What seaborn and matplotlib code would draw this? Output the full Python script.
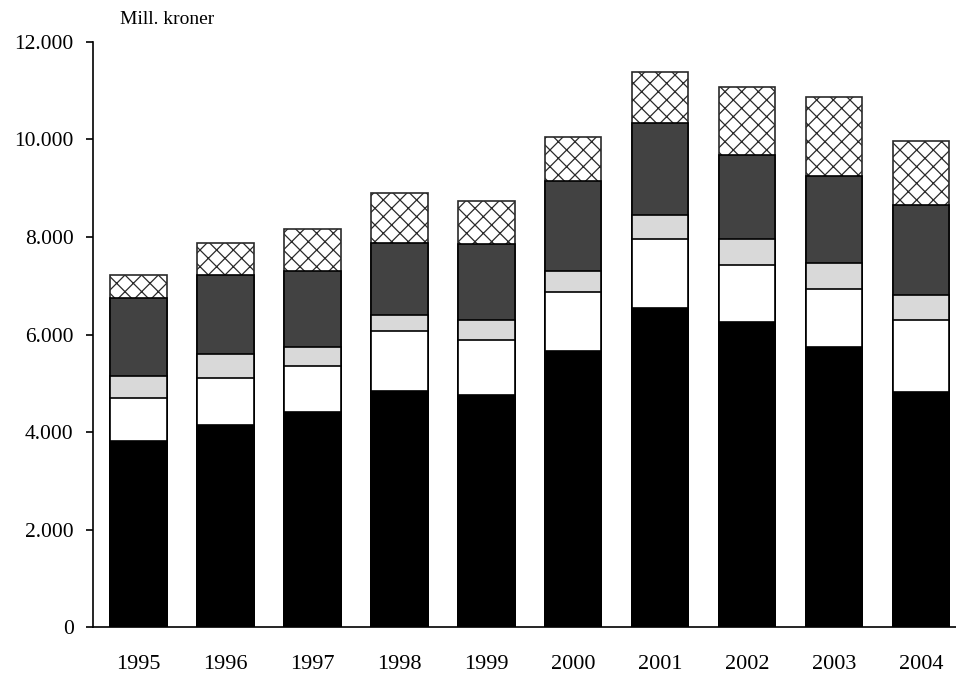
import numpy as np
import pandas as pd
import matplotlib
matplotlib.use("Agg")
import matplotlib.pyplot as plt
import seaborn as sns

# Mill. kroner per year, split into five components (bottom to top)
years = ["1995", "1996", "1997", "1998", "1999", "2000", "2001", "2002", "2003", "2004"]
black_part = [3810, 4150, 4420, 4840, 4765, 5665, 6550, 6265, 5740, 4830]
white_part = [895, 960, 930, 1240, 1115, 1205, 1415, 1170, 1200, 1460]
lightgrey_part = [435, 490, 400, 330, 410, 440, 480, 520, 525, 525]
darkgrey_part = [1600, 1625, 1560, 1475, 1565, 1840, 1885, 1720, 1795, 1845]
hatched_part = [485, 660, 860, 1025, 885, 900, 1060, 1405, 1610, 1310]

y_ticks = [0, 2000, 4000, 6000, 8000, 10000, 12000]
y_tick_labels = ["0", "2.000", "4.000", "6.000", "8.000", "10.000", "12.000"]
unit_label = "Mill. kroner"

sns.set_style("white")
plt.rcParams["font.family"] = ["Liberation Serif", "DejaVu Serif"]
plt.rcParams["hatch.linewidth"] = 0.9

parts = [black_part, white_part, lightgrey_part, darkgrey_part, hatched_part]
cum = np.cumsum(np.array(parts, dtype=float), axis=0)
df = pd.DataFrame({"year": years})
for i in range(len(parts)):
    df[f"top{i}"] = cum[i]

fig = plt.figure(figsize=(9.56, 6.74), dpi=100)
ax = fig.add_axes([0.0973, 0.0697, 0.9027, 0.868])

styles = [
    dict(color="#000000"),
    dict(color="#ffffff"),
    dict(color="#d9d9d9"),
    dict(color="#424242"),
    dict(color="#ffffff", hatch="xx"),
]

# Stack by drawing cumulative totals from the top down
for i in reversed(range(len(parts))):
    sns.barplot(data=df, x="year", y=f"top{i}", ax=ax, width=0.65,
                edgecolor="black", linewidth=1.2, saturation=1,
                **styles[i])
for p in ax.patches:
    if p.get_hatch():
        p.set_edgecolor("#2a2a2a")

ax.set_xlim(-0.52, 9.40)
ax.set_ylim(0, 12000)
ax.set_yticks(y_ticks)
ax.set_yticklabels(y_tick_labels)
ax.set_xlabel("")
ax.set_ylabel("")

for s in ["top", "right"]:
    ax.spines[s].set_visible(False)
for s in ["left", "bottom"]:
    ax.spines[s].set_color("black")
    ax.spines[s].set_linewidth(1.2)

ax.tick_params(axis="y", direction="out", length=5, width=1.2, pad=9,
               labelsize=15.5, colors="black", left=True)
ax.tick_params(axis="x", length=0, pad=20, labelsize=16, colors="black")

fig.text(120 / 956, 1 - 20 / 674, unit_label, fontsize=14, va="center",
         ha="left", color="black")

fig.savefig("out.png", dpi=100)
